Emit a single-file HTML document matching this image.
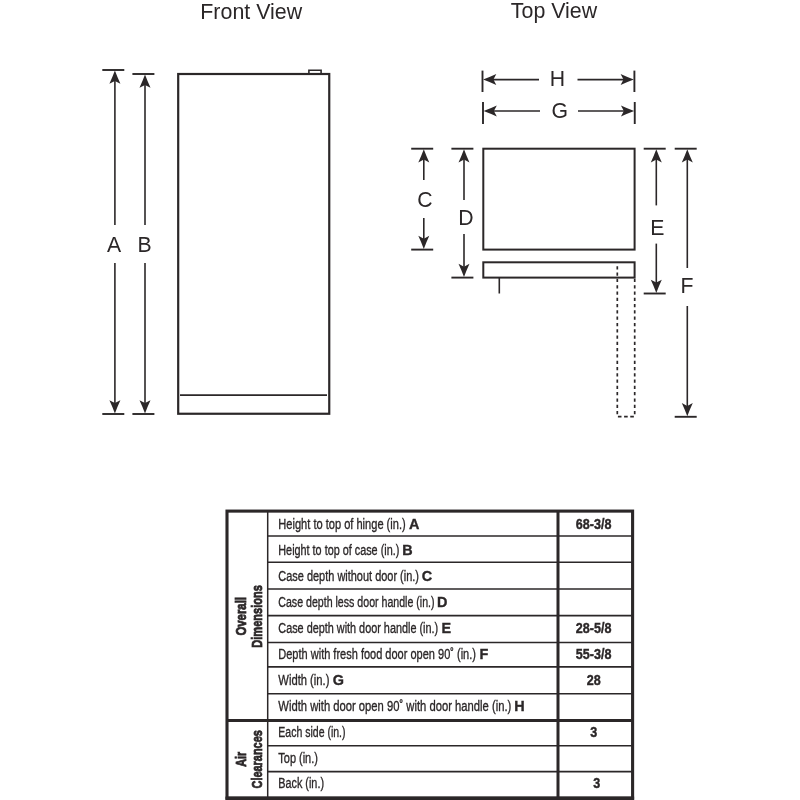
<!DOCTYPE html>
<html><head><meta charset="utf-8"><style>
html,body{margin:0;padding:0;background:#fff;width:800px;height:800px;overflow:hidden}
svg{position:absolute;left:0;top:0;will-change:transform}
text{font-family:"Liberation Sans",sans-serif}
</style></head><body>
<svg width="800" height="800" viewBox="0 0 800 800">
<g stroke="#2b2728" fill="#2b2728">
<line x1="102.30000000000001" y1="70" x2="124.30000000000001" y2="70" stroke-width="1.9"/>
<line x1="102.30000000000001" y1="414" x2="124.30000000000001" y2="414" stroke-width="1.9"/>
<line x1="114.9" y1="75" x2="114.9" y2="225" stroke-width="1.6"/>
<line x1="114.9" y1="263" x2="114.9" y2="409" stroke-width="1.6"/>
<path d="M114.90,70.60 Q112.30,77.60 109.40,83.80 L114.90,80.90 L120.40,83.80 Q117.50,77.60 114.90,70.60 Z" stroke="none"/>
<path d="M114.90,413.40 Q117.50,406.40 120.40,400.20 L114.90,403.10 L109.40,400.20 Q112.30,406.40 114.90,413.40 Z" stroke="none"/>
<line x1="132.4" y1="74" x2="154.4" y2="74" stroke-width="1.9"/>
<line x1="132.4" y1="414" x2="154.4" y2="414" stroke-width="1.9"/>
<line x1="145" y1="79" x2="145" y2="225" stroke-width="1.6"/>
<line x1="145" y1="263" x2="145" y2="409" stroke-width="1.6"/>
<path d="M145.00,74.60 Q142.40,81.60 139.50,87.80 L145.00,84.90 L150.50,87.80 Q147.60,81.60 145.00,74.60 Z" stroke="none"/>
<path d="M145.00,413.40 Q147.60,406.40 150.50,400.20 L145.00,403.10 L139.50,400.20 Q142.40,406.40 145.00,413.40 Z" stroke="none"/>
<rect x="178.2" y="74" width="151.05" height="339.75" fill="none" stroke-width="2.2"/>
<line x1="180" y1="395.1" x2="327" y2="395.1" stroke-width="1.6"/>
<path d="M308.9,74 V70.2 H321.1 V74" fill="none" stroke-width="1.6"/>
<line x1="482.5" y1="70.6" x2="482.5" y2="92" stroke-width="1.9"/>
<line x1="634.4" y1="70.6" x2="634.4" y2="92" stroke-width="1.9"/>
<line x1="487.5" y1="79.6" x2="539" y2="79.6" stroke-width="1.6"/>
<line x1="577.5" y1="79.6" x2="629.4" y2="79.6" stroke-width="1.6"/>
<path d="M483.10,79.60 Q490.10,82.20 496.30,85.10 L493.40,79.60 L496.30,74.10 Q490.10,77.00 483.10,79.60 Z" stroke="none"/>
<path d="M633.80,79.60 Q626.80,77.00 620.60,74.10 L623.50,79.60 L620.60,85.10 Q626.80,82.20 633.80,79.60 Z" stroke="none"/>
<line x1="483" y1="102" x2="483" y2="124" stroke-width="1.9"/>
<line x1="634.75" y1="102" x2="634.75" y2="124" stroke-width="1.9"/>
<line x1="488" y1="111" x2="540" y2="111" stroke-width="1.6"/>
<line x1="578" y1="111" x2="629.75" y2="111" stroke-width="1.6"/>
<path d="M483.60,111.00 Q490.60,113.60 496.80,116.50 L493.90,111.00 L496.80,105.50 Q490.60,108.40 483.60,111.00 Z" stroke="none"/>
<path d="M634.15,111.00 Q627.15,108.40 620.95,105.50 L623.85,111.00 L620.95,116.50 Q627.15,113.60 634.15,111.00 Z" stroke="none"/>
<rect x="483.3" y="148.7" width="151.3" height="100.9" fill="none" stroke-width="2"/>
<rect x="483.3" y="262.3" width="151.3" height="15.3" fill="none" stroke-width="2"/>
<line x1="499.3" y1="277.6" x2="499.3" y2="293.5" stroke-width="1.6"/>
<line x1="411.2" y1="148.7" x2="433.2" y2="148.7" stroke-width="1.9"/>
<line x1="411.2" y1="249.6" x2="433.2" y2="249.6" stroke-width="1.9"/>
<line x1="423.8" y1="153.7" x2="423.8" y2="180" stroke-width="1.6"/>
<line x1="423.8" y1="218" x2="423.8" y2="244.6" stroke-width="1.6"/>
<path d="M423.80,149.30 Q421.20,156.30 418.30,162.50 L423.80,159.60 L429.30,162.50 Q426.40,156.30 423.80,149.30 Z" stroke="none"/>
<path d="M423.80,249.00 Q426.40,242.00 429.30,235.80 L423.80,238.70 L418.30,235.80 Q421.20,242.00 423.80,249.00 Z" stroke="none"/>
<line x1="451.4" y1="148.7" x2="473.4" y2="148.7" stroke-width="1.9"/>
<line x1="451.4" y1="277.6" x2="473.4" y2="277.6" stroke-width="1.9"/>
<line x1="464" y1="153.7" x2="464" y2="200" stroke-width="1.6"/>
<line x1="464" y1="234" x2="464" y2="272.6" stroke-width="1.6"/>
<path d="M464.00,149.30 Q461.40,156.30 458.50,162.50 L464.00,159.60 L469.50,162.50 Q466.60,156.30 464.00,149.30 Z" stroke="none"/>
<path d="M464.00,277.00 Q466.60,270.00 469.50,263.80 L464.00,266.70 L458.50,263.80 Q461.40,270.00 464.00,277.00 Z" stroke="none"/>
<line x1="643.6999999999999" y1="148.7" x2="665.6999999999999" y2="148.7" stroke-width="1.9"/>
<line x1="643.6999999999999" y1="293.5" x2="665.6999999999999" y2="293.5" stroke-width="1.9"/>
<line x1="656.3" y1="153.7" x2="656.3" y2="205.4" stroke-width="1.6"/>
<line x1="656.3" y1="243.6" x2="656.3" y2="288.5" stroke-width="1.6"/>
<path d="M656.30,149.30 Q653.70,156.30 650.80,162.50 L656.30,159.60 L661.80,162.50 Q658.90,156.30 656.30,149.30 Z" stroke="none"/>
<path d="M656.30,292.90 Q658.90,285.90 661.80,279.70 L656.30,282.60 L650.80,279.70 Q653.70,285.90 656.30,292.90 Z" stroke="none"/>
<line x1="674.6999999999999" y1="148.7" x2="696.6999999999999" y2="148.7" stroke-width="1.9"/>
<line x1="674.6999999999999" y1="416.8" x2="696.6999999999999" y2="416.8" stroke-width="1.9"/>
<line x1="687.3" y1="153.7" x2="687.3" y2="268" stroke-width="1.6"/>
<line x1="687.3" y1="306" x2="687.3" y2="411.8" stroke-width="1.6"/>
<path d="M687.30,149.30 Q684.70,156.30 681.80,162.50 L687.30,159.60 L692.80,162.50 Q689.90,156.30 687.30,149.30 Z" stroke="none"/>
<path d="M687.30,416.20 Q689.90,409.20 692.80,403.00 L687.30,405.90 L681.80,403.00 Q684.70,409.20 687.30,416.20 Z" stroke="none"/>
<path d="M617.3,266.25v3.25 M617.3,272.54v3.25 M617.3,278.84v3.25 M634.7,278.84v3.25 M617.3,285.13v3.25 M634.7,285.13v3.25 M617.3,291.42v3.25 M634.7,291.42v3.25 M617.3,297.71v3.25 M634.7,297.71v3.25 M617.3,304.01v3.25 M634.7,304.01v3.25 M617.3,310.30v3.25 M634.7,310.30v3.25 M617.3,316.59v3.25 M634.7,316.59v3.25 M617.3,322.89v3.25 M634.7,322.89v3.25 M617.3,329.18v3.25 M634.7,329.18v3.25 M617.3,335.47v3.25 M634.7,335.47v3.25 M617.3,341.77v3.25 M634.7,341.77v3.25 M617.3,348.06v3.25 M634.7,348.06v3.25 M617.3,354.35v3.25 M634.7,354.35v3.25 M617.3,360.64v3.25 M634.7,360.64v3.25 M617.3,366.94v3.25 M634.7,366.94v3.25 M617.3,373.23v3.25 M634.7,373.23v3.25 M617.3,379.52v3.25 M634.7,379.52v3.25 M617.3,385.82v3.25 M634.7,385.82v3.25 M617.3,392.11v3.25 M634.7,392.11v3.25 M617.3,398.40v3.25 M634.7,398.40v3.25 M617.3,404.70v3.25 M634.7,404.70v3.25 M617.3,410.99v3.25 M634.7,410.99v3.25 M617.9,416.7h3.6 M624.1,416.7h3.6 M630.25,416.7h3.6" fill="none" stroke-width="1.7"/>
</g>
<g stroke="#2b2728" fill="none">
<rect x="227" y="511.1" width="405.6" height="287" fill="none" stroke-width="3.1"/>
<line x1="267.7" y1="511" x2="267.7" y2="798" stroke-width="1.5"/>
<line x1="558" y1="511" x2="558" y2="798" stroke-width="3"/>
<line x1="267.7" y1="536" x2="632.5" y2="536" stroke-width="1.6"/>
<line x1="267.7" y1="562.2" x2="632.5" y2="562.2" stroke-width="1.6"/>
<line x1="267.7" y1="589" x2="632.5" y2="589" stroke-width="1.6"/>
<line x1="267.7" y1="615.6" x2="632.5" y2="615.6" stroke-width="1.6"/>
<line x1="267.7" y1="642.5" x2="632.5" y2="642.5" stroke-width="1.6"/>
<line x1="267.7" y1="666.9" x2="632.5" y2="666.9" stroke-width="1.6"/>
<line x1="267.7" y1="693.75" x2="632.5" y2="693.75" stroke-width="1.6"/>
<line x1="267.7" y1="745.7" x2="632.5" y2="745.7" stroke-width="1.6"/>
<line x1="267.7" y1="771.6" x2="632.5" y2="771.6" stroke-width="1.6"/>
<line x1="227" y1="720.4" x2="632.6" y2="720.4" stroke-width="3"/>
<rect x="225.45" y="796.6" width="408.7" height="3.4" fill="#2b2728" stroke="none"/>
</g>
<g fill="#2b2728" stroke="none">
<text transform="translate(114,252) scale(0.944,1)" font-size="22.5" text-anchor="middle">A</text>
<text transform="translate(144.5,252) scale(0.944,1)" font-size="22.5" text-anchor="middle">B</text>
<text transform="translate(425,206.6) scale(0.944,1)" font-size="22.5" text-anchor="middle">C</text>
<text transform="translate(465.9,224.5) scale(0.944,1)" font-size="22.5" text-anchor="middle">D</text>
<text transform="translate(657.3,234.7) scale(0.944,1)" font-size="22.5" text-anchor="middle">E</text>
<text transform="translate(687,292.5) scale(0.944,1)" font-size="22.5" text-anchor="middle">F</text>
<text transform="translate(557.5,86) scale(0.944,1)" font-size="22.5" text-anchor="middle">H</text>
<text transform="translate(559.7,118) scale(0.944,1)" font-size="22.5" text-anchor="middle">G</text>
<text transform="translate(251.2,18.7) scale(0.955,1)" font-size="22.4" text-anchor="middle">Front View</text>
<text transform="translate(554,17.9) scale(0.955,1)" font-size="22.4" text-anchor="middle">Top View</text>
<text transform="translate(278.3,528.50) scale(0.7336,1)" font-size="15.1" stroke="#2b2728" stroke-width="0.35">Height to top of hinge (in.)</text>
<text x="409.1" y="528.50" font-size="14.4" font-weight="bold" stroke="#2b2728" stroke-width="0.35">A</text>
<text transform="translate(593.7,528.50) scale(0.84,1)" font-size="15" font-weight="bold" stroke="#2b2728" stroke-width="0.4" text-anchor="middle">68-3/8</text>
<text transform="translate(278.3,555.00) scale(0.7183,1)" font-size="15.1" stroke="#2b2728" stroke-width="0.35">Height to top of case (in.)</text>
<text x="402.3" y="555.00" font-size="14.4" font-weight="bold" stroke="#2b2728" stroke-width="0.35">B</text>
<text transform="translate(278.3,581.25) scale(0.7260,1)" font-size="15.1" stroke="#2b2728" stroke-width="0.35">Case depth without door (in.)</text>
<text x="421.8" y="581.25" font-size="14.4" font-weight="bold" stroke="#2b2728" stroke-width="0.35">C</text>
<text transform="translate(278.3,606.90) scale(0.7029,1)" font-size="15.1" stroke="#2b2728" stroke-width="0.35">Case depth less door handle (in.)</text>
<text x="437.1" y="606.90" font-size="14.4" font-weight="bold" stroke="#2b2728" stroke-width="0.35">D</text>
<text transform="translate(278.3,632.50) scale(0.7192,1)" font-size="15.1" stroke="#2b2728" stroke-width="0.35">Case depth with door handle (in.)</text>
<text x="441.5" y="632.50" font-size="14.4" font-weight="bold" stroke="#2b2728" stroke-width="0.35">E</text>
<text transform="translate(593.7,632.50) scale(0.84,1)" font-size="15" font-weight="bold" stroke="#2b2728" stroke-width="0.4" text-anchor="middle">28-5/8</text>
<text transform="translate(278.3,658.60) scale(0.7298,1)" font-size="15.1" stroke="#2b2728" stroke-width="0.35">Depth with fresh food door open 90˚ (in.)</text>
<text x="479.5" y="658.60" font-size="14.4" font-weight="bold" stroke="#2b2728" stroke-width="0.35">F</text>
<text transform="translate(593.7,658.60) scale(0.84,1)" font-size="15" font-weight="bold" stroke="#2b2728" stroke-width="0.4" text-anchor="middle">55-3/8</text>
<text transform="translate(278.3,684.80) scale(0.7442,1)" font-size="15.1" stroke="#2b2728" stroke-width="0.35">Width (in.)</text>
<text x="332.7" y="684.80" font-size="14.4" font-weight="bold" stroke="#2b2728" stroke-width="0.35">G</text>
<text transform="translate(593.7,684.80) scale(0.84,1)" font-size="15" font-weight="bold" stroke="#2b2728" stroke-width="0.4" text-anchor="middle">28</text>
<text transform="translate(278.3,710.60) scale(0.7452,1)" font-size="15.1" stroke="#2b2728" stroke-width="0.35">Width with door open 90˚ with door handle (in.)</text>
<text x="514.3" y="710.60" font-size="14.4" font-weight="bold" stroke="#2b2728" stroke-width="0.35">H</text>
<text transform="translate(278.3,736.90) scale(0.6972,1)" font-size="15.1" stroke="#2b2728" stroke-width="0.35">Each side (in.)</text>
<text transform="translate(593.7,736.90) scale(0.84,1)" font-size="15" font-weight="bold" stroke="#2b2728" stroke-width="0.4" text-anchor="middle">3</text>
<text transform="translate(278.3,762.50) scale(0.7269,1)" font-size="15.1" stroke="#2b2728" stroke-width="0.35">Top (in.)</text>
<text transform="translate(278.3,788.10) scale(0.7173,1)" font-size="15.1" stroke="#2b2728" stroke-width="0.35">Back (in.)</text>
<text transform="translate(596.8,788.10) scale(0.84,1)" font-size="15" font-weight="bold" stroke="#2b2728" stroke-width="0.4" text-anchor="middle">3</text>
<text transform="translate(246.25,616.3) rotate(-90) scale(0.735,1)" font-size="15.5" font-weight="bold" stroke="#2b2728" stroke-width="0.8" text-anchor="middle">Overall</text>
<text transform="translate(261.5,616.4) rotate(-90) scale(0.715,1)" font-size="15.5" font-weight="bold" stroke="#2b2728" stroke-width="0.8" text-anchor="middle">Dimensions</text>
<text transform="translate(246.25,759.2) rotate(-90) scale(0.7,1)" font-size="15.5" font-weight="bold" stroke="#2b2728" stroke-width="0.8" text-anchor="middle">Air</text>
<text transform="translate(261.5,759.3) rotate(-90) scale(0.705,1)" font-size="15.5" font-weight="bold" stroke="#2b2728" stroke-width="0.8" text-anchor="middle">Clearances</text>
</g>
</svg>
</body></html>
